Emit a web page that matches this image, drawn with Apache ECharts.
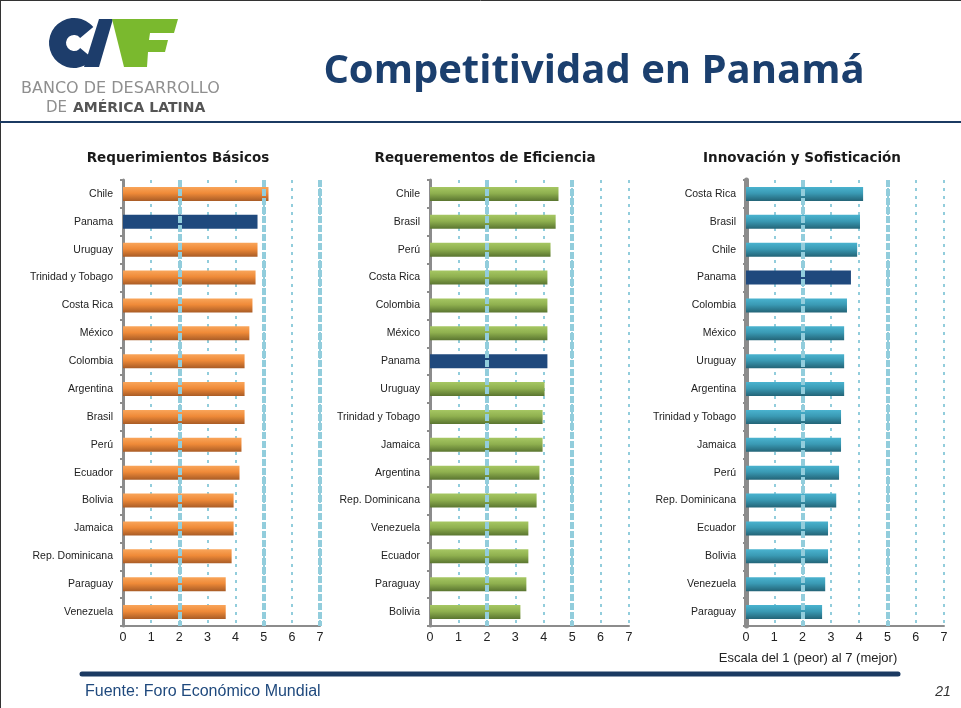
<!DOCTYPE html>
<html>
<head>
<meta charset="utf-8">
<script src="https://cdn.jsdelivr.net/npm/echarts@6/dist/echarts.min.js"></script>
<style>
  html, body { margin: 0; padding: 0; background: #fff; }
  #main { width: 961px; height: 708px; }
</style>
</head>
<body>
<div id="main"></div>
<script>
// Global Competitiveness sub-indices, score on a 1 (worst) to 7 (best) scale
const catsBasic = ['Chile','Panama','Uruguay','Trinidad y Tobago','Costa Rica','México','Colombia','Argentina','Brasil','Perú','Ecuador','Bolivia','Jamaica','Rep. Dominicana','Paraguay','Venezuela'];
const valsBasic = [5.17,4.78,4.78,4.71,4.60,4.49,4.32,4.32,4.32,4.21,4.14,3.93,3.93,3.86,3.65,3.65];

const catsEff = ['Chile','Brasil','Perú','Costa Rica','Colombia','México','Panama','Uruguay','Trinidad y Tobago','Jamaica','Argentina','Rep. Dominicana','Venezuela','Ecuador','Paraguay','Bolivia'];
const valsEff = [4.52,4.42,4.24,4.13,4.13,4.13,4.13,4.03,3.96,3.96,3.85,3.75,3.46,3.46,3.39,3.18];

const catsInn = ['Costa Rica','Brasil','Chile','Panama','Colombia','México','Uruguay','Argentina','Trinidad y Tobago','Jamaica','Perú','Rep. Dominicana','Ecuador','Bolivia','Venezuela','Paraguay'];
const valsInn = [4.14,4.03,3.93,3.71,3.57,3.47,3.47,3.47,3.36,3.36,3.29,3.19,2.90,2.90,2.80,2.69];

const panelTitles = ['Requerimientos Básicos', 'Requerementos de Eficiencia', 'Innovación y Sofisticación'];
const xTicks = [0, 1, 2, 3, 4, 5, 6, 7];
const highlight = 'Panama';

const chart = echarts.init(document.getElementById('main'), null, { renderer: 'canvas' });

const FONT = '"Liberation Sans", Arial, sans-serif';
const gridColor = '#92cddc';
const navy = '#1d3d6b';
const cafGreen = '#7ab92e';

function grad(top, mid, bottom) {
  return new echarts.graphic.LinearGradient(0, 0, 0, 1, [
    { offset: 0, color: top },
    { offset: 0.45, color: mid },
    { offset: 1, color: bottom }
  ]);
}

const panels = [
  { cats: catsBasic, vals: valsBasic, left: 123, width: 197, titleX: 178, fill: grad('#f9a55a', '#ef8a38', '#a95c26'), axisW: 3, thick: [2, 5, 7] },
  { cats: catsEff,   vals: valsEff,   left: 430, width: 199, titleX: 485, fill: grad('#a6c763', '#8fb04f', '#5a7530'), axisW: 3, thick: [2, 5] },
  { cats: catsInn,   vals: valsInn,   left: 746, width: 198, titleX: 802, fill: grad('#4ab3cf', '#3a9ab4', '#236477'), axisW: 5, thick: [2, 5] }
];

const grids = [], xAxes = [], yAxes = [], series = [];
panels.forEach((p, i) => {
  grids.push({ left: p.left, width: p.width, top: 180, height: 446 });
  xAxes.push({
    type: 'value', gridIndex: i, min: xTicks[0], max: xTicks[xTicks.length - 1], interval: 1,
    axisLine: { show: true, lineStyle: { color: '#8c8c8c', width: 2 } },
    axisTick: { show: false },
    axisLabel: { color: '#222', fontFamily: FONT, fontSize: 12.5, margin: 5 },
    splitLine: { show: true, lineStyle: { color: gridColor, width: 2, type: [3, 5] } }
  });
  yAxes.push({
    type: 'category', gridIndex: i, data: p.cats, inverse: true,
    axisLine: { show: true, lineStyle: { color: '#8c8c8c', width: p.axisW } },
    axisTick: { show: true, length: 3, lineStyle: { color: '#8c8c8c', width: 2 } },
    axisLabel: { color: '#222', fontFamily: FONT, fontSize: 10.5, margin: 10 },
    splitLine: { show: false }
  });
  series.push({
    type: 'bar', xAxisIndex: i, yAxisIndex: i, barWidth: 14,
    data: p.vals.map((v, k) => p.cats[k] === highlight
      ? { value: v, itemStyle: { color: '#1f497d' } }
      : v),
    itemStyle: { color: p.fill },
    markLine: {
      silent: true, symbol: 'none', label: { show: false },
      lineStyle: { color: gridColor, width: 4, type: [7, 2] },
      data: p.thick.map(t => ({ xAxis: t }))
    },
    z: 3
  });
});

const titleBlue = '#1b3f6e';

const panelTitleGraphics = panels.map((p, i) => ({
  type: 'text', x: p.titleX, y: 158,
  style: { text: panelTitles[i], fontFamily: '"DejaVu Sans", sans-serif', fontSize: 13.5, fontWeight: 'bold', fill: '#1a1a1a', textAlign: 'center', textVerticalAlign: 'middle' }
}));

chart.setOption({
  animation: false,
  backgroundColor: '#ffffff',
  grid: grids,
  xAxis: xAxes,
  yAxis: yAxes,
  series: series,
  graphic: [
    // slide frame
    { type: 'line', shape: { x1: 0.5, y1: 0, x2: 0.5, y2: 708 }, style: { stroke: '#333', lineWidth: 1 } },
    { type: 'line', shape: { x1: 0, y1: 0.5, x2: 961, y2: 0.5 }, style: { stroke: '#333', lineWidth: 1 } },
    // header rule
    { type: 'line', shape: { x1: 0, y1: 122, x2: 961, y2: 122 }, style: { stroke: '#1b3a62', lineWidth: 2 } },
    // logo mark: C, split A and F
    { type: 'sector', shape: { cx: 74, cy: 43, r: 25, r0: 8, startAngle: Math.PI * 0.22, endAngle: Math.PI * 1.78, clockwise: true }, style: { fill: navy } },
    { type: 'polygon', shape: { points: [[84, 67], [99, 67], [113, 19], [99, 19]] }, style: { fill: navy } },
    { type: 'polygon', shape: { points: [[112, 19], [178, 19], [174, 33], [150, 33], [149, 40], [168, 40], [165, 52], [148, 52], [147, 67], [124, 67]] }, style: { fill: cafGreen } },
    { type: 'text', x: 21, y: 89, style: { text: 'BANCO DE DESARROLLO', fontFamily: '"DejaVu Sans", sans-serif', fontSize: 16, fill: '#8f8f8f', textVerticalAlign: 'middle' } },
    { type: 'text', x: 46, y: 108, style: { text: 'DE', fontFamily: '"DejaVu Sans", sans-serif', fontSize: 15, fill: '#8f8f8f', textVerticalAlign: 'middle' } },
    { type: 'text', x: 73, y: 108, style: { text: 'AMÉRICA LATINA', fontFamily: '"DejaVu Sans", sans-serif', fontSize: 14, fontWeight: 'bold', fill: '#555', textVerticalAlign: 'middle' } },
    // slide title
    { type: 'text', x: 594, y: 72, style: { text: 'Competitividad en Panamá', fontFamily: '"Open Sans", Lato, sans-serif', fontSize: 40, fontWeight: 'bold', fill: titleBlue, textAlign: 'center', textVerticalAlign: 'middle' } },
    ...panelTitleGraphics,
    // scale note
    { type: 'text', x: 808, y: 658, style: { text: 'Escala del 1 (peor) al 7 (mejor)', fontFamily: FONT, fontSize: 13, fill: '#222', textAlign: 'center', textVerticalAlign: 'middle' } },
    // footer rule and notes
    { type: 'line', shape: { x1: 82, y1: 674, x2: 898, y2: 674 }, style: { stroke: '#1b3a62', lineWidth: 5, lineCap: 'round' } },
    { type: 'text', x: 85, y: 692, style: { text: 'Fuente: Foro Económico Mundial', fontFamily: FONT, fontSize: 16, fill: '#1f497d', textVerticalAlign: 'middle' } },
    { type: 'text', x: 943, y: 692, style: { text: '21', fontFamily: FONT, fontSize: 14, fontStyle: 'italic', fill: '#333', textAlign: 'center', textVerticalAlign: 'middle' } }
  ]
});
</script>
</body>
</html>
